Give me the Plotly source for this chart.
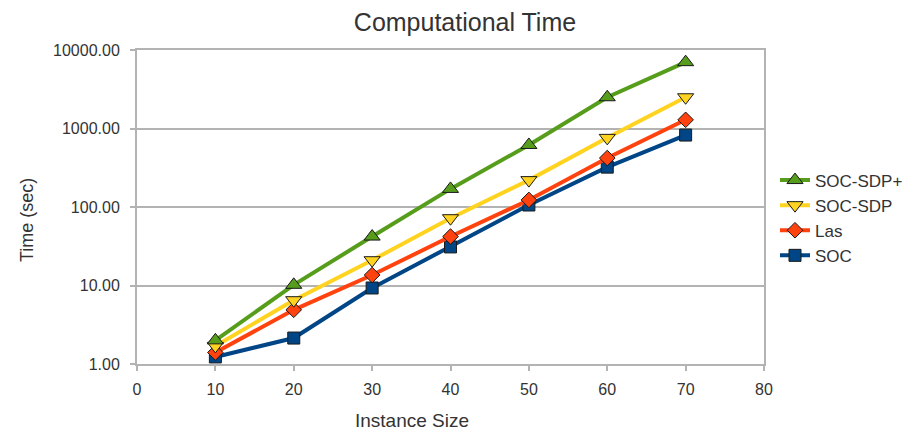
import plotly.graph_objects as go

instance_size = [10, 20, 30, 40, 50, 60, 70]
soc = [1.23, 2.14, 9.3, 31, 106, 322, 825]
las = [1.4, 4.9, 13.6, 42, 123, 420, 1290]
soc_sdp = [1.7, 6.5, 21, 72, 220, 760, 2500]
soc_sdp_plus = [2.0, 10.2, 42, 170, 617, 2500, 7000]

y_tickvals = [1, 10, 100, 1000, 10000]
y_ticktext = ["1.00", "10.00", "100.00", "1000.00", "10000.00"]
x_tickvals = [0, 10, 20, 30, 40, 50, 60, 70, 80]

series = [
    ("SOC", soc, "#004586", "square", 12),
    ("Las", las, "#ff420e", "diamond", 12),
    ("SOC-SDP", soc_sdp, "#ffd320", "triangle-down", 14),
    ("SOC-SDP+", soc_sdp_plus, "#579d1c", "triangle-up", 14),
]

fig = go.Figure()
for name, vals, color, sym, size in series:
    fig.add_trace(go.Scatter(
        x=instance_size, y=vals, name=name, mode="lines+markers",
        line=dict(color=color, width=4),
        marker=dict(symbol=sym, size=size, color=color,
                    line=dict(color="#1a1a1a", width=1)),
    ))

# page body has an 8px margin, so the figure is laid out 8px up/left
off = 8
pl, pr, pt, pb = 137 - off, 764 - off, 50 - off, 364 - off
W, H = 912, 434
pw, ph = pr - pl, pb - pt

font_family = "Liberation Sans, Arial, sans-serif"
text_color = "#333333"
fig.update_layout(
    width=W, height=H,
    margin=dict(l=pl, r=W - pr, t=pt, b=H - pb, autoexpand=False),
    paper_bgcolor="white", plot_bgcolor="white",
    font=dict(family=font_family, size=16, color=text_color),
    title=dict(text="Computational Time", xref="paper", x=(465 - 137) / pw, xanchor="center",
               yref="container", y=1, yanchor="top", pad=dict(t=5, b=0),
               font=dict(size=25, color=text_color)),
    showlegend=True,
    legend=dict(x=1 + (775 - 764) / pw, xref="paper", y=1 - (218 - 50) / ph,
                xanchor="left", yanchor="middle",
                traceorder="reversed", font=dict(size=17),
                itemwidth=30, tracegroupgap=0),
    annotations=[
        dict(text="Instance Size", xref="paper", yref="paper",
             x=(412 - 137) / pw, y=-(420 - 364) / ph,
             xanchor="center", yanchor="middle", showarrow=False,
             font=dict(size=19, color=text_color)),
        dict(text="Time (sec)", xref="paper", yref="paper",
             x=-(137 - 27) / pw, y=1 - (220 - 50) / ph,
             xanchor="center", yanchor="middle", showarrow=False,
             textangle=-90, font=dict(size=18, color=text_color)),
    ],
)
fig.update_xaxes(
    range=[0, 80], tickvals=x_tickvals,
    showgrid=False, showline=True, linecolor="#b3b3b3", linewidth=2,
    mirror=True, ticks="outside", ticklen=5, tickcolor="#b3b3b3", tickwidth=2,
    ticklabelstandoff=5, automargin=False, zeroline=False,
)
fig.update_yaxes(
    type="log", range=[0, 4], tickvals=y_tickvals, ticktext=y_ticktext,
    showgrid=True, gridcolor="#b3b3b3", gridwidth=2,
    showline=True, linecolor="#b3b3b3", linewidth=2, mirror=True,
    ticks="outside", ticklen=5, tickcolor="#b3b3b3", tickwidth=2,
    ticklabelstandoff=7, automargin=False, zeroline=False,
)

fig.write_html("out.html")
